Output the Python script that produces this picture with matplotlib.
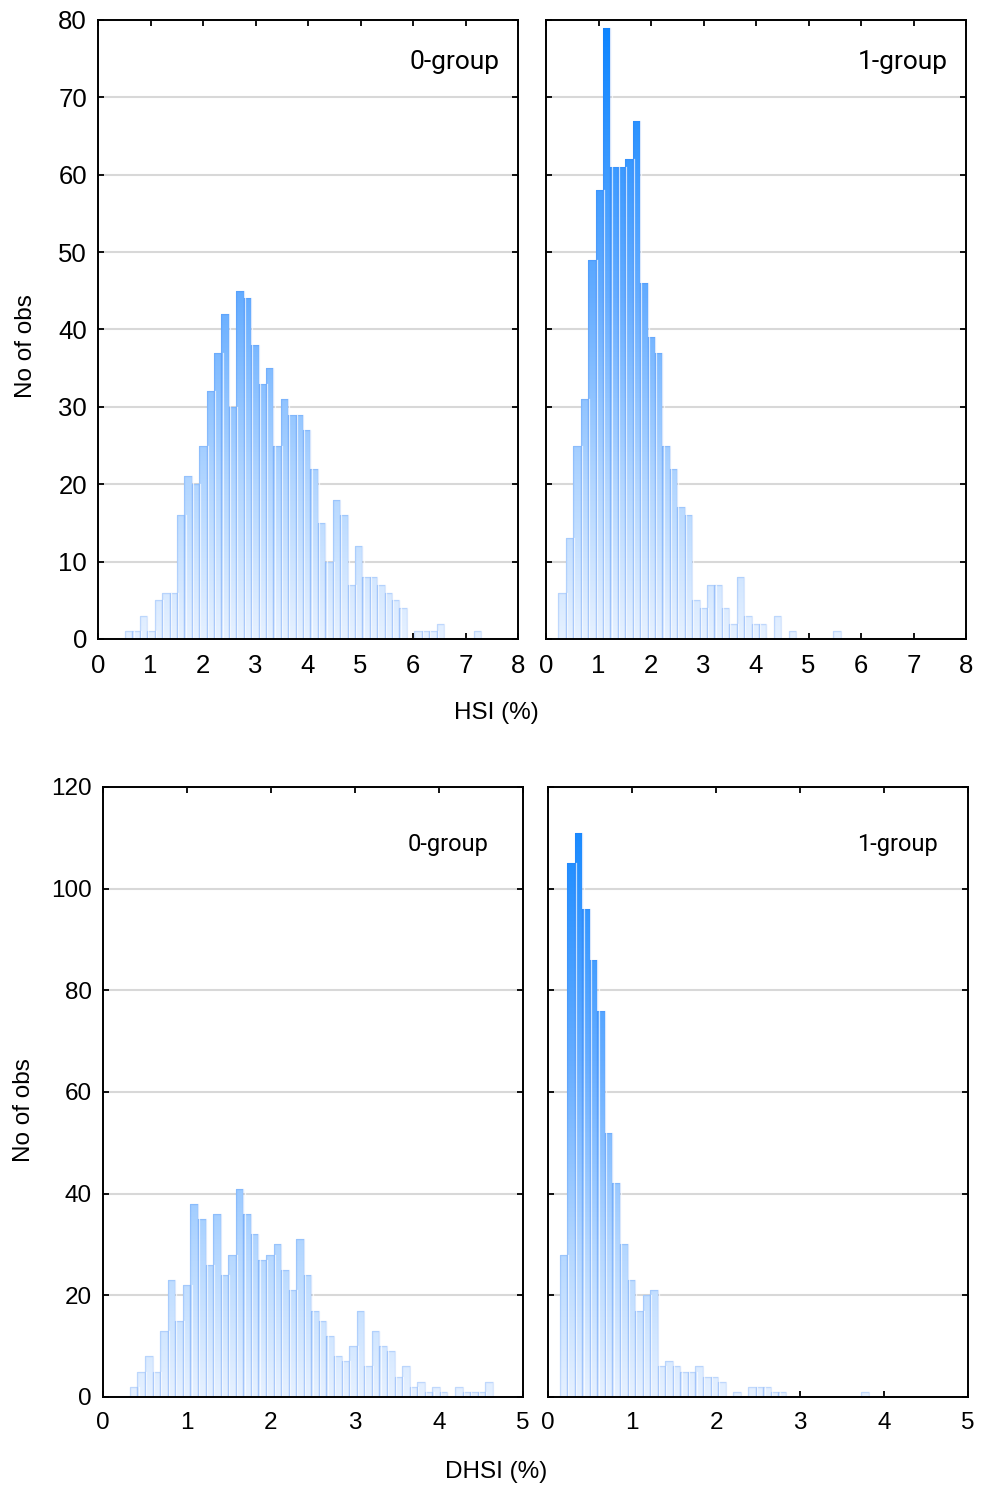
"""HSI / DHSI 直方图: 0-group 与 1-group 对比"""
import numpy as np
import matplotlib.pyplot as plt
import matplotlib.transforms as mtransforms
from matplotlib.colors import LinearSegmentedColormap
from matplotlib.path import Path
from matplotlib.patches import PathPatch

plt.rcParams["font.family"] = ["Liberation Sans", "DejaVu Sans"]

# ---- data: histogram counts ----
hsi0_start, hsi0_width = 0.514, 0.1413
hsi0_counts = [1, 1, 3, 1, 5, 6, 6, 16, 21, 20, 25, 32, 37, 42, 30, 45, 44, 38,
               33, 35, 25, 31, 29, 29, 27, 22, 15, 10, 18, 16, 7, 12, 8, 8, 7,
               6, 5, 4, 0, 1, 1, 1, 2, 0, 0, 0, 0, 1]

hsi1_start, hsi1_width = 0.235, 0.1415
hsi1_counts = [6, 13, 25, 31, 49, 58, 79, 61, 61, 62, 67, 46, 39, 37, 25, 22,
               17, 16, 5, 4, 7, 7, 4, 2, 8, 3, 2, 2, 0, 3, 0, 1, 0, 0, 0, 0,
               0, 1]

dhsi0_start, dhsi0_width = 0.321, 0.09
dhsi0_counts = [2, 5, 8, 5, 13, 23, 15, 22, 38, 35, 26, 36, 24, 28, 41, 36,
                32, 27, 28, 30, 25, 21, 31, 24, 17, 15, 12, 8, 7, 10, 17, 6,
                13, 10, 9, 4, 6, 2, 3, 1, 2, 1, 0, 2, 1, 1, 1, 3]

dhsi1_start, dhsi1_width = 0.139, 0.0898
dhsi1_counts = [28, 105, 111, 96, 86, 76, 52, 42, 30, 23, 17, 20, 21, 6, 7, 6,
                5, 5, 6, 4, 4, 3, 0, 1, 0, 2, 2, 2, 1, 1, 0, 0, 0, 0, 0, 0, 0,
                0, 0, 0, 1]

group_labels = ["0-group", "1-group"]
top_xlabel = "HSI (%)"
bottom_xlabel = "DHSI (%)"
ylabel = "No of obs"

CMAP = LinearSegmentedColormap.from_list(
    "blu", [(0.0, "#e6f1ff"), (0.25, "#b2d6ff"), (0.55, "#66adff"), (1.0, "#0a84ff")], N=256)


def draw_hist(ax, start, width, counts, xmax, ymax, ystep, label, lx, ly, tsize, gsize):
    counts = np.asarray(counts)
    edges = start + width * np.arange(len(counts) + 1)
    left = edges[:-1]

    # 渐变填充: 全轴竖向渐变, 用柱子做裁剪
    verts, codes = [], []
    for x0, h in zip(left, counts):
        if h <= 0:
            continue
        verts += [(x0, 0), (x0 + width, 0), (x0 + width, h), (x0, h), (x0, 0)]
        codes += [Path.MOVETO, Path.LINETO, Path.LINETO, Path.LINETO, Path.CLOSEPOLY]
    clip = PathPatch(Path(verts, codes), transform=ax.transData,
                     facecolor="none", edgecolor="none")
    ax.add_patch(clip)
    grad = np.linspace(0, 1, 256).reshape(-1, 1)
    im = ax.imshow(grad, cmap=CMAP, origin="lower", aspect="auto",
                   extent=[0, xmax, 0, ymax], zorder=1, interpolation="bilinear")
    im.set_clip_path(clip)

    ax.bar(left, counts, width=width, align="edge", facecolor="none",
           edgecolor=(0.15, 0.45, 0.95, 0.18), linewidth=1.0, zorder=2)
    # 右侧白色细边
    shift = mtransforms.offset_copy(ax.transData, fig=ax.figure, x=1.2, y=0, units="dots")
    for x0, h in zip(left, counts):
        if h > 0:
            ax.plot([x0 + width, x0 + width], [0, h], color="white", lw=0.9,
                    alpha=0.7, transform=shift, zorder=2.5)

    ax.set_xlim(0, xmax)
    ax.set_ylim(0, ymax)
    ax.set_xticks(np.arange(0, xmax + 1, 1))
    ax.set_yticks(np.arange(0, ymax + 1, ystep))
    ax.set_axisbelow(True)
    ax.yaxis.grid(True, color="#d8d8d8", linewidth=1.5)
    ax.tick_params(direction="in", top=True, right=True, length=4, width=1.3,
                   labelsize=tsize)
    ax.tick_params(axis="x", pad=11)
    ax.tick_params(axis="y", pad=8)
    for sp in ax.spines.values():
        sp.set_linewidth(1.4)
    ax.text(lx, ly, label, transform=ax.transAxes, ha="right", va="center",
            fontsize=gsize, family=["Roboto", "DejaVu Sans"])


fig = plt.figure(figsize=(9.89, 14.86), dpi=100)
ax1 = fig.add_axes([0.0991, 0.5700, 0.4247, 0.4166])
ax2 = fig.add_axes([0.5521, 0.5700, 0.4247, 0.4166])
ax3 = fig.add_axes([0.1041, 0.0599, 0.4247, 0.4105])
ax4 = fig.add_axes([0.5541, 0.0599, 0.4247, 0.4105])

draw_hist(ax1, hsi0_start, hsi0_width, hsi0_counts, 8, 80, 10, group_labels[0], 0.957, 0.932, 18.5, 19)
draw_hist(ax2, hsi1_start, hsi1_width, hsi1_counts, 8, 80, 10, group_labels[1], 0.957, 0.932, 18.5, 19)
draw_hist(ax3, dhsi0_start, dhsi0_width, dhsi0_counts, 5, 120, 20, group_labels[0], 0.919, 0.905, 17.5, 17)
draw_hist(ax4, dhsi1_start, dhsi1_width, dhsi1_counts, 5, 120, 20, group_labels[1], 0.929, 0.905, 17.5, 17)
ax2.tick_params(labelleft=False)
ax4.tick_params(labelleft=False)

fig.text(496 / 989, 1 - 713 / 1486, top_xlabel, ha="center", va="center", fontsize=17.5)
fig.text(496 / 989, 1 - 1472 / 1486, bottom_xlabel, ha="center", va="center", fontsize=17.5)
fig.text(26 / 989, 1 - 346 / 1486, ylabel, ha="center", va="center", rotation=90, fontsize=17.5)
fig.text(24 / 989, 1 - 1110 / 1486, ylabel, ha="center", va="center", rotation=90, fontsize=17.5)

plt.savefig("out.png", dpi=100)
plt.close()
